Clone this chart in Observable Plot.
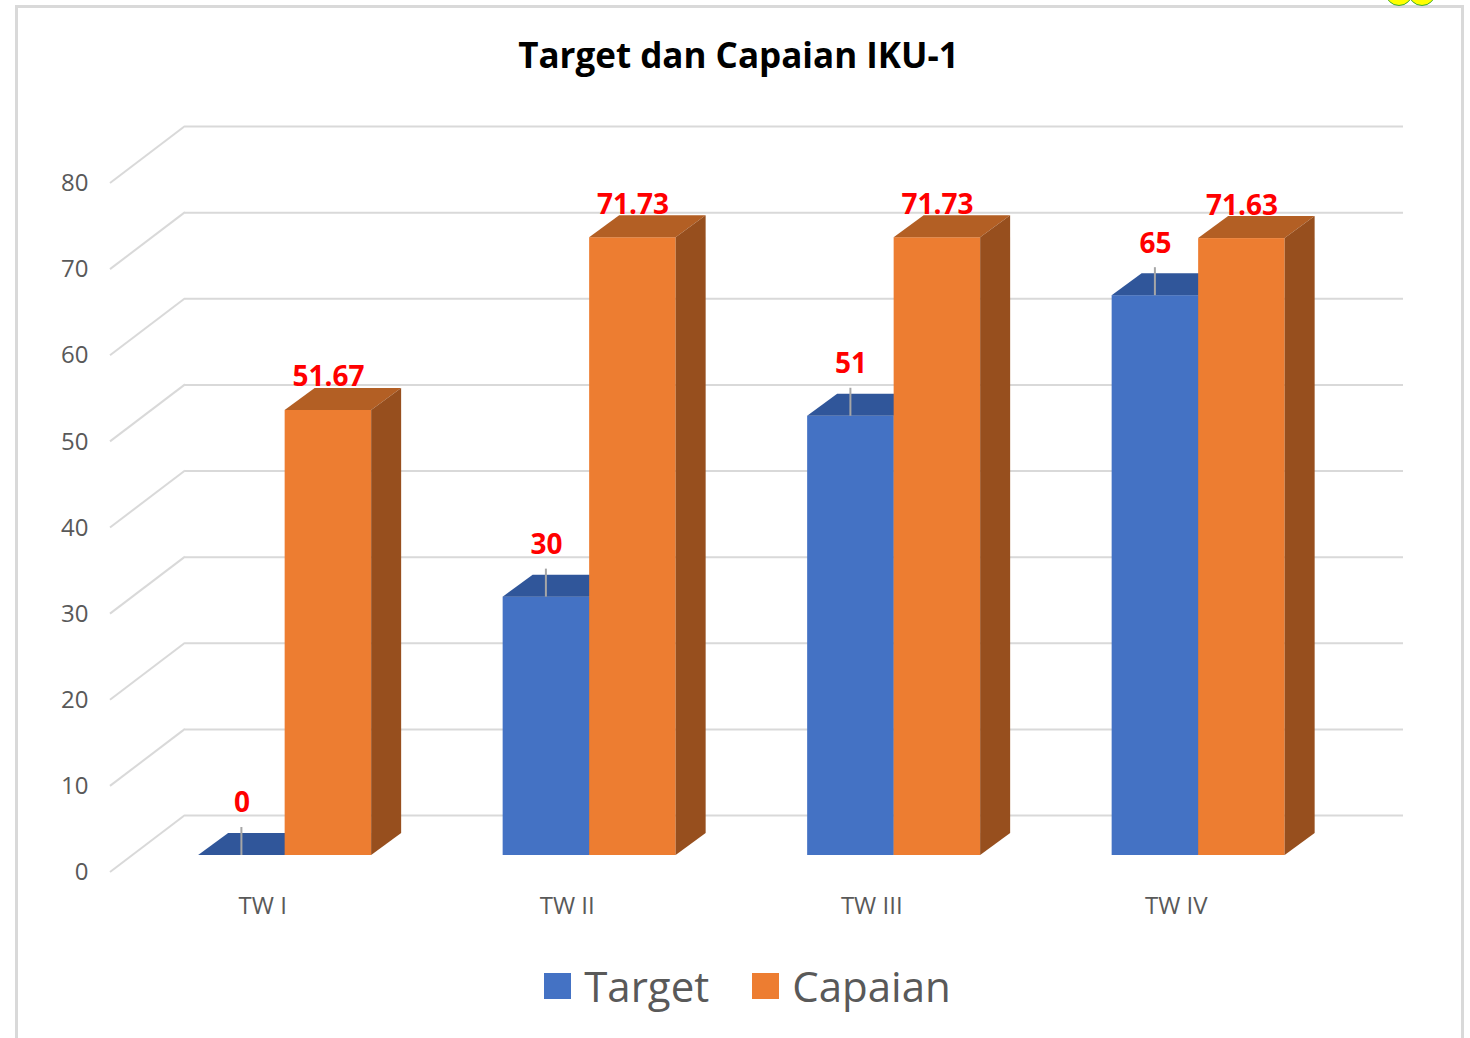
<!DOCTYPE html>
<html>
<head>
<meta charset="utf-8">
<script src="https://cdn.jsdelivr.net/npm/d3@7"></script>
<script src="https://cdn.jsdelivr.net/npm/@observablehq/plot@0.6"></script>
<style>
  html, body { margin: 0; padding: 0; background: #fff; overflow: hidden; }
  #wrap { position: relative; width: 1470px; height: 1038px; overflow: hidden; font-family: "Open Sans", sans-serif; }
  #frame { position: absolute; left: 15px; top: 5px; width: 1449px; height: 1100px; border: 3px solid #D9D9D9; box-sizing: border-box; }
  #chart { position: absolute; left: 0; top: 0; }
  #title { position: absolute; left: 0; width: 1477px; top: 37px; text-align: center; font-weight: 700; font-size: 35px; line-height: 35px; color: #000; }
  #legend { position: absolute; left: 0; width: 1495px; top: 965px; height: 42px; display: flex; justify-content: center; align-items: center; font-size: 42px; line-height: 42px; color: #595959; }
  #legend .sw { width: 27px; height: 26px; margin-right: 13px; }
  #legend .item { display: flex; align-items: center; }
  #legend .item + .item { margin-left: 43px; }
  .blob { position: absolute; top: -22px; width: 26px; height: 26px; border-radius: 50%; background: #FFFF00; border: 1px solid #3BAA35; }
</style>
</head>
<body>
<div id="wrap">
  <div id="frame"></div>
  <div class="blob" style="left:1385px"></div>
  <div class="blob" style="left:1408px"></div>
  <div id="chart"></div>
  <div id="title"></div>
  <div id="legend"></div>
</div>
<script>
// ---- data ----
const title = "Target dan Capaian IKU-1";
const categories = ["TW I", "TW II", "TW III", "TW IV"];
const seriesNames = ["Target", "Capaian"];
const target = [0, 30, 51, 65];
const capaian = [51.67, 71.73, 71.73, 71.63];
const yTicks = [0, 10, 20, 30, 40, 50, 60, 70, 80];

// ---- styles ----
const frontColors = ["#4472C4", "#ED7D31"];
const topColors = ["#30569A", "#B35F24"];
const sideColors = ["#2F528F", "#974F1E"];
const gridColor = "#D9D9D9";
const W = 1470, H = 1038;
const M = {left: 110, right: 142, top: 183, bottom: 166};
const WALL = {dx: 75, dy: -57};     // back wall offset from floor front
const FRONT = {dx: 22.4, dy: -17};  // bar front plane offset
const DEPTH = {dx: 30, dy: -22};    // bar depth
const BAR_W = 86.5;
const BW = (W - M.left - M.right) / categories.length;
const labelLift = [52, 33];

const rows = categories.flatMap((c, i) => [
  {cat: c, series: seriesNames[0], s: 0, value: target[i]},
  {cat: c, series: seriesNames[1], s: 1, value: capaian[i]}
]);
const rowsOf = s => rows.filter(d => d.s === s);

function barGeom(scales, d) {
  const {x, y} = scales;
  const bw = x.bandwidth ? x.bandwidth() : BW;
  const cx = x(d.cat) + bw / 2 + FRONT.dx;
  const x0 = d.s === 0 ? cx - BAR_W : cx;
  return {x0, x1: x0 + BAR_W, yt: y(d.value) + FRONT.dy, yb: y(0) + FRONT.dy};
}

function faces(s, withSide) {
  return (index, scales) => {
    const g = d3.create("svg:g");
    for (const d of rowsOf(s)) {
      const {x0, x1, yt, yb} = barGeom(scales, d);
      g.append("path")
        .attr("d", `M${x0},${yt}L${x0 + DEPTH.dx},${yt + DEPTH.dy}L${x1 + DEPTH.dx},${yt + DEPTH.dy}L${x1},${yt}Z`)
        .attr("fill", topColors[s]);
      if (withSide) {
        g.append("path")
          .attr("d", `M${x1},${yb}L${x1 + DEPTH.dx},${yb + DEPTH.dy}L${x1 + DEPTH.dx},${yt + DEPTH.dy}L${x1},${yt}Z`)
          .attr("fill", sideColors[s]);
      }
    }
    return g.node();
  };
}

function diagonals(index, scales, values, dims) {
  const g = d3.create("svg:g");
  const x0 = dims.marginLeft;
  for (const t of yTicks) {
    const y0 = scales.y(t);
    g.append("line")
      .attr("x1", x0).attr("y1", y0)
      .attr("x2", x0 + WALL.dx).attr("y2", y0 + WALL.dy)
      .attr("stroke", gridColor).attr("stroke-width", 2);
  }
  return g.node();
}

function leaders(index, scales) {
  const g = d3.create("svg:g");
  for (const d of rowsOf(0)) {
    const {x0, x1, yt} = barGeom(scales, d);
    const xm = (x0 + x1) / 2;
    g.append("line")
      .attr("x1", xm).attr("y1", yt - labelLift[0] + 24)
      .attr("x2", xm).attr("y2", yt)
      .attr("stroke", "#A6A6A6").attr("stroke-width", 2);
  }
  return g.node();
}

const labelMark = s => Plot.text(rowsOf(s), {
  x: "cat", y: "value", text: d => String(d.value),
  dx: FRONT.dx + (s === 0 ? -BAR_W / 2 : BAR_W / 2),
  dy: FRONT.dy - labelLift[s],
  fill: "#FF0000", fontWeight: "bold", fontSize: 28
});

const frontMark = s => Plot.barY(rowsOf(s), {
  x: "cat", y: "value", fill: frontColors[s],
  insetLeft: s === 0 ? BW / 2 - BAR_W : BW / 2,
  insetRight: s === 0 ? BW / 2 : BW / 2 - BAR_W,
  dx: FRONT.dx, dy: FRONT.dy
});

const chart = Plot.plot({
  width: W, height: H,
  marginLeft: M.left, marginRight: M.right, marginTop: M.top, marginBottom: M.bottom,
  style: {fontFamily: "Open Sans, sans-serif", fontSize: "24px", color: "#595959", background: "transparent", overflow: "visible"},
  x: {domain: categories, padding: 0, round: false, tickSize: 0, tickPadding: 24, label: null},
  y: {domain: [0, 80], ticks: yTicks, tickSize: 0, tickPadding: 22, label: null, tickFormat: d => String(d)},
  marks: [
    Plot.ruleY(yTicks, {dx: WALL.dx, dy: WALL.dy, stroke: gridColor, strokeWidth: 2}),
    diagonals,
    frontMark(0),
    faces(0, true),
    frontMark(1),
    faces(1, true),
    leaders,
    labelMark(0),
    labelMark(1)
  ]
});
document.getElementById("chart").appendChild(chart);

document.getElementById("title").textContent = title;
const legend = document.getElementById("legend");
seriesNames.forEach((n, i) => {
  const item = document.createElement("div");
  item.className = "item";
  const sw = document.createElement("div");
  sw.className = "sw";
  sw.style.background = frontColors[i];
  const tx = document.createElement("span");
  tx.textContent = n;
  item.appendChild(sw); item.appendChild(tx);
  legend.appendChild(item);
});
</script>
</body>
</html>
